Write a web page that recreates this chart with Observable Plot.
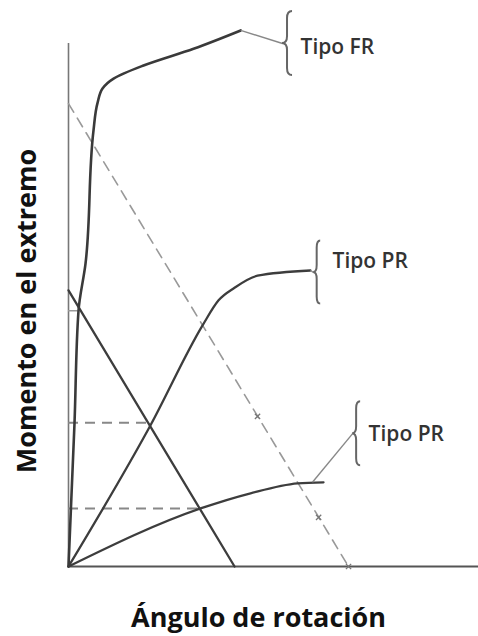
<!DOCTYPE html>
<html><head><meta charset="utf-8">
<script src="https://cdn.jsdelivr.net/npm/d3@7"></script>
<script src="https://cdn.jsdelivr.net/npm/@observablehq/plot@0.6"></script>
<style>body{margin:0;background:#fff;}</style>
</head><body><div id="chart"></div>
<script>
// Curves (arbitrary units: angle 0-100, moment 0-100)
const frX = [0, 1.46, 2.44, 4.15, 6.1, 7.1, 8.3, 11.0, 18.3, 30.5, 42.0];
const frY = [0, 27.3, 48.9, 57.9, 83.4, 88.7, 91.4, 93.3, 95.8, 99.0, 102.5];
const pr1X = [0, 20, 32.7, 36.6, 40.5, 46.1, 59.0];
const pr1Y = [0, 27.0, 46.1, 50.9, 53.3, 55.6, 56.6];
const pr2X = [0, 32.2, 44.4, 55.9, 62.2];
const pr2Y = [0, 11.1, 14.0, 15.9, 16.1];
const beamSolidX = [0, 40.5];
const beamSolidY = [52.8, 0];
const beamDashX = [0, 68.3];
const beamDashY = [88.5, 0];
const refLevels = [27.5, 11.1];
const refEnds = [20, 32.2];
const fixedLevel = [48.9];
const fixedEnd = [2.4];
const beamTickX = [46.1, 61.0, 68.3];
const beamTickY = [28.7, 9.4, 0];
// Annotations
const labels = ["Tipo FR", "Tipo PR", "Tipo PR"];
const tipX = [52.2, 59.8, 69.3];
const tipY = [100, 56.2, 25.4];
const leadX = [42.0, 59.0, 59.5];
const leadY = [102.5, 56.6, 16.1];
const textX = [56.6, 64.4, 73.2];
const textY = [99.2, 58.3, 25.2];
const braceW = [10, 7, 8];
const braceH = [32, 31.5, 32];
const xTitle = "Ángulo de rotación";
const yTitle = "Momento en el extremo";

const pts = (xs, ys) => xs.map((x, i) => ({x, y: ys[i]}));
const fr = pts(frX, frY), pr1 = pts(pr1X, pr1Y), pr2 = pts(pr2X, pr2Y);
const beamS = pts(beamSolidX, beamSolidY), beamD = pts(beamDashX, beamDashY);
const refs = refLevels.map((y, i) => ({y, x2: refEnds[i]}));
const fixedRef = fixedLevel.map((y, i) => ({y, x2: fixedEnd[i]}));
const ticks = pts(beamTickX, beamTickY);
const ann = labels.map((label, i) => ({label, tx: tipX[i], ty: tipY[i], lx: leadX[i], ly: leadY[i], textX: textX[i], textY: textY[i], w: braceW[i], h: braceH[i]}));

function braces(index, scales) {
  const g = d3.create("svg:g").attr("fill", "none").attr("stroke", "#666").attr("stroke-width", 2);
  for (const a of ann) {
    const x = scales.x(a.tx), y = scales.y(a.ty), w = a.w, h = a.h, m = x + w / 2, r = 7;
    g.append("path").attr("d",
      `M${x + w},${y - h} Q${m},${y - h} ${m},${y - h + r} L${m},${y - r} Q${m},${y} ${x},${y} ` +
      `Q${m},${y} ${m},${y + r} L${m},${y + h - r} Q${m},${y + h} ${x + w},${y + h}`);
  }
  return g.node();
}

const chart = Plot.plot({
  width: 478, height: 636,
  marginLeft: 68, marginRight: 0, marginTop: 43, marginBottom: 70,
  x: {domain: [0, 100], axis: null},
  y: {domain: [0, 100], axis: null},
  style: {background: "#fff"},
  marks: [
    Plot.ruleX([0], {y1: 0, y2: 100, stroke: "#777", strokeWidth: 1.6}),
    Plot.ruleY([0], {x1: 0, x2: 100, stroke: "#555", strokeWidth: 2}),
    Plot.ruleY(refs, {y: "y", x1: 0, x2: "x2", stroke: "#888", strokeWidth: 2, strokeDasharray: "10,7"}),
    Plot.ruleY(fixedRef, {y: "y", x1: 0, x2: "x2", stroke: "#999", strokeWidth: 1.5}),
    Plot.line(beamD, {x: "x", y: "y", stroke: "#999", strokeWidth: 1.6, strokeDasharray: "10,7"}),
    Plot.dot(ticks, {x: "x", y: "y", symbol: "times", r: 2.5, stroke: "#777", strokeWidth: 1.3}),
    Plot.line(beamS, {x: "x", y: "y", stroke: "#3d3d3d", strokeWidth: 2.3}),
    Plot.line(pr2, {x: "x", y: "y", stroke: "#3d3d3d", strokeWidth: 2.3, curve: "monotone-x"}),
    Plot.line(pr1, {x: "x", y: "y", stroke: "#3d3d3d", strokeWidth: 2.3, curve: "monotone-x"}),
    Plot.line(fr, {x: "x", y: "y", stroke: "#3a3a3a", strokeWidth: 2.6, curve: "monotone-y"}),
    Plot.link(ann, {x1: "lx", y1: "ly", x2: "tx", y2: "ty", stroke: "#888", strokeWidth: 1.4}),
    braces,
    Plot.text(ann, {x: "textX", y: "textY", text: "label", textAnchor: "start", fontSize: 21, fontWeight: 600, fill: "#333", fontFamily: "Open Sans"}),
    Plot.text([yTitle], {frameAnchor: "left", textAnchor: "middle", dx: -41, dy: 6, rotate: -90, fontSize: 27, fontWeight: 700, fill: "#111", fontFamily: "Open Sans"}),
    Plot.text([xTitle], {frameAnchor: "bottom", textAnchor: "middle", lineAnchor: "middle", dx: -15, dy: 52, fontSize: 27, fontWeight: 700, fill: "#111", fontFamily: "Open Sans"})
  ]
});
document.getElementById("chart").appendChild(chart);
</script>
</body></html>
